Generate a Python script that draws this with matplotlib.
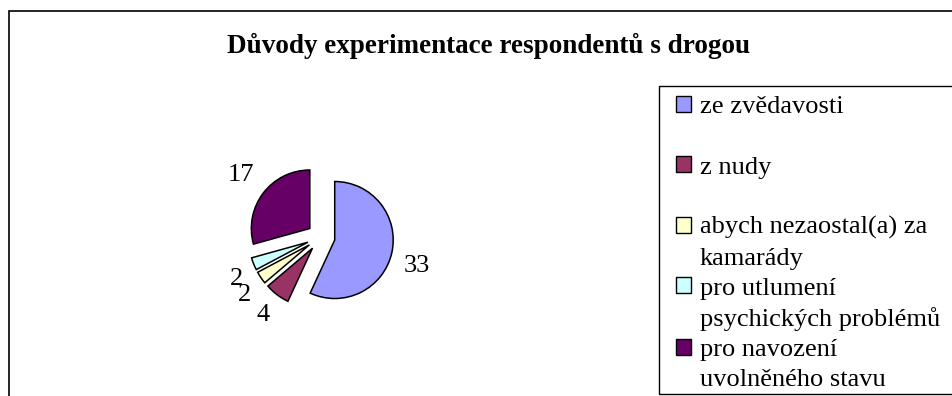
import matplotlib.pyplot as plt
import matplotlib.patches as mpatches

title = "Důvody experimentace respondentů s drogou"
categories = ["ze zvědavosti", "z nudy", "abych nezaostal(a) za\nkamarády",
              "pro utlumení\npsychických problémů", "pro navození\nuvolněného stavu"]
counts = [33, 4, 2, 2, 17]
colors = ["#9999FF", "#993366", "#FFFFCC", "#CCFFFF", "#660066"]

plt.rcParams['font.family'] = ['Liberation Serif', 'DejaVu Serif']

W, H = 953, 396
fig = plt.figure(figsize=(W / 100, H / 100), dpi=100)

# chart frame, cut off on the right and bottom like the original
fig.patches.append(mpatches.Rectangle((9 / W, -0.1), 1.2, 1.1 - 11 / H, transform=fig.transFigure,
                                      fill=False, ec="black", lw=1.2))
# legend box
fig.patches.append(mpatches.Rectangle((659 / W, 1 - 394 / H), 1.0, (394 - 86) / H, transform=fig.transFigure,
                                      fill=False, ec="black", lw=1.0))

fig.text(488.5 / W, 1 - 53 / H, title, ha="center", va="baseline", fontsize=19.5, fontweight="bold")

# pie axes: centre at (321, 237) px, radius 58.5 px
cx, cy, r, half = 321, 237, 58.5, 150
ax = fig.add_axes([(cx - half) / W, (H - cy - half) / H, 2 * half / W, 2 * half / H])
wedges, texts = ax.pie(counts, colors=colors, explode=[0.24] * len(counts), startangle=90,
                       counterclock=False, labels=[str(c) for c in counts], labeldistance=1.2,
                       wedgeprops=dict(edgecolor="black", linewidth=1.1), textprops=dict(fontsize=19))
lim = half / r
ax.set_xlim(-lim, lim)
ax.set_ylim(-lim, lim)
for t in texts:
    t.set_va("top" if t.get_position()[1] < 0 else "bottom")

# legend: one row per text line, square only on the first line of each entry
rows, handles = [], []
for cat, col in zip(categories, colors):
    lines = cat.split("\n")
    if len(lines) == 1:
        lines.append(" ")
    for i, line in enumerate(lines):
        rows.append(line)
        if i == 0:
            handles.append(mpatches.Patch(facecolor=col, edgecolor="black", lw=1))
        else:
            handles.append(mpatches.Patch(facecolor="none", edgecolor="none"))

leg = fig.legend(handles, rows, loc="upper left", bbox_to_anchor=(676 / W, 1 - 96 / H), frameon=False,
                 fontsize=19, borderpad=0, borderaxespad=0, handlelength=0.57, handleheight=0.57,
                 handletextpad=0.33, labelspacing=0.29)

fig.savefig("out.png", dpi=100)
